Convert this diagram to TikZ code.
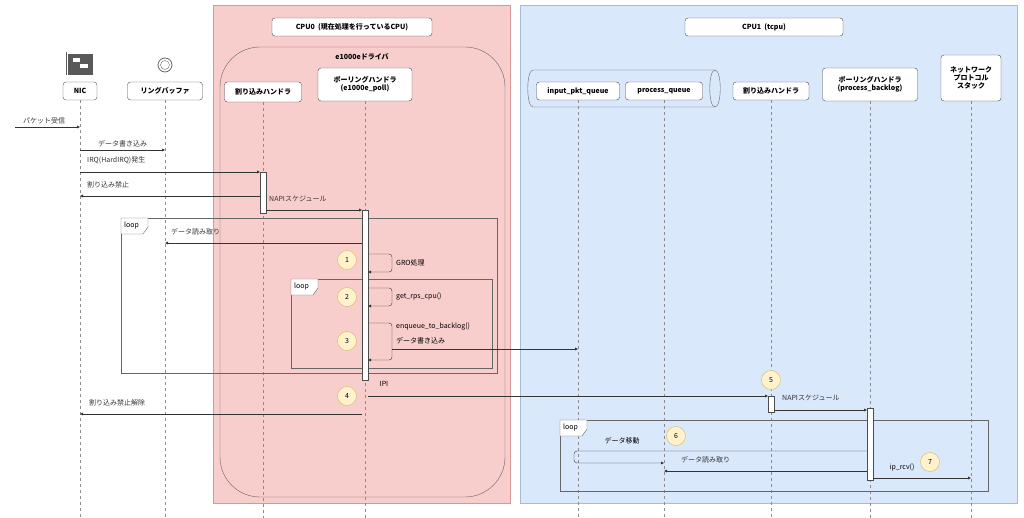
\documentclass[tikz,border=0pt]{standalone}
\usepackage{fontspec}
\setmainfont{Noto Sans CJK JP}
\usetikzlibrary{arrows.meta}
\definecolor{cpuzero}{HTML}{F8CECC}
\definecolor{cpuzeroline}{HTML}{B85450}
\definecolor{cpuone}{HTML}{DAE8FC}
\definecolor{cpuoneline}{HTML}{6C8EBF}
\definecolor{marker}{HTML}{FFF2CC}
\definecolor{markerline}{HTML}{D6B656}
\tikzset{
	actor/.style={draw=black!70, fill=white, rounded corners=3pt, font=\fontsize{7}{8}\selectfont\bfseries, align=center, inner sep=2pt},
	life/.style={dashed, black!45, thin},
	msg/.style={-{Latex[length=3pt,width=3pt]}, black!80, thin},
	lbl/.style={font=\fontsize{7}{8}\selectfont, inner sep=1pt},
	act/.style={draw=black!70, fill=white, thin},
	num/.style={circle, draw=markerline, fill=marker, minimum size=19pt, inner sep=0pt, font=\fontsize{7}{8}\selectfont},
	frame/.style={draw=black!60, thin}
}
\newcommand{\looptag}[2]{%
	\draw[frame, fill=white] (#1,#2) -- ++(27,0) -- ++(0,9) -- ++(-5,7) -- ++(-22,0) -- cycle;
	\node[lbl, anchor=west] at (#1+2,#2+8) {loop};}
\begin{document}
\begin{tikzpicture}[x=1pt,y=-1pt]
	\useasboundingbox (0,0) rectangle (1024,518);
	% cpu regions
	\draw[fill=cpuzero, draw=cpuzeroline!60] (213,5) rectangle (510,503);
	\draw[fill=cpuone, draw=cpuoneline!60] (520,5) rectangle (1017,503);
	\draw[fill=cpuzero, draw=black!60, rounded corners=40pt] (220,47) rectangle (505,497);
	\node[actor, minimum width=160pt, minimum height=18pt] (cpu0) at (352,27) {CPU0\ \ (現在処理を行っているCPU)};
	\node[actor, minimum width=158pt, minimum height=18pt] (cpu1) at (764,27) {CPU1\ \ (tcpu)};
	\node[lbl, font=\fontsize{7}{8}\selectfont\bfseries] (drv) at (362,57) {e1000eドライバ};
	% queue cylinder
	\draw[fill=cpuone, draw=black!60] (533,70) -- (715,70) .. controls (722,70) and (722,107) .. (715,107)
		-- (533,107) .. controls (526,107) and (526,70) .. (533,70) -- cycle;
	\draw[black!60] (715,70) .. controls (708,70) and (708,107) .. (715,107);

	% actors
	\node[actor, minimum width=34pt, minimum height=18pt] (nic) at (80,91) {NIC};
	\node[actor, minimum width=75pt, minimum height=18pt] (ring) at (165,91) {リングバッファ};
	\node[actor, minimum width=77pt, minimum height=20pt] (intr) at (263,92) {割り込みハンドラ};
	\node[actor, minimum width=94pt, minimum height=33pt] (poll) at (365,84.5) {ポーリングハンドラ\\(e1000e\_poll)};
	\node[actor, minimum width=83pt, minimum height=18pt] (inq) at (578,91) {input\_pkt\_queue};
	\node[actor, minimum width=77pt, minimum height=18pt] (procq) at (664,91) {process\_queue};
	\node[actor, minimum width=76pt, minimum height=18pt] (intrb) at (771,91) {割り込みハンドラ};
	\node[actor, minimum width=95pt, minimum height=33pt] (pollb) at (870,84.5) {ポーリングハンドラ\\(process\_backlog)};
	\node[actor, minimum width=60pt, minimum height=46pt] (stack) at (971,78) {ネットワーク\\プロトコル\\スタック};

	% icons
	\fill[black!65] (68,54) rectangle (93,75);
	\fill[white] (73,58) rectangle (80,62);
	\fill[white] (80,64) rectangle (88,68);
	\draw[black!65, thick] (66,52) -- (66,75);
	\draw[black!60, thick] (165,65) circle[radius=7];
	\draw[black!60] (165,65) circle[radius=4.5];

	% lifelines
	\foreach \n in {nic,ring,intr,poll,inq,procq,intrb,pollb,stack}
		\draw[life] (\n.south) -- (\n |- 0,518);

	% loop frames
	\draw[frame] (121,218) rectangle (497,373);
	\looptag{121}{218}
	\draw[frame] (291,279) rectangle (492,368);
	\looptag{291}{279}
	\draw[frame] (560,420) rectangle (988,491);
	\looptag{560}{420}

	% activations
	\draw[act] (260,172) rectangle (266,213);
	\draw[act] (362,210) rectangle (368,380);
	\draw[act] (768,396) rectangle (774,412);
	\draw[act] (867,408) rectangle (873,480);

	% messages
	\coordinate (src) at (15,127);
	\draw[msg] (src) -- (nic |- src) node[lbl, pos=0.45, above=2pt] {パケット受信};
	\draw[msg] (nic |- 0,150) -- (ring |- 0,150) node[lbl, midway, above=2pt] {データ書き込み};
	\draw[msg] (nic |- 0,172) -- (260,172) node[lbl, anchor=south west] at (86,165) {IRQ(HardIRQ)発生};
	\draw[msg] (260,196) -- (nic |- 0,196) node[lbl, anchor=south west] at (86,189) {割り込み禁止};
	\draw[msg] (266,210) -- (362,210) node[lbl, anchor=south west] at (268,203) {NAPIスケジュール};
	\draw[msg] (362,243) -- (ring |- 0,243) node[lbl, anchor=south west] at (170,236) {データ読み取り};

	\node[num] (n1) at (347,260) {1};
	\draw[msg, rounded corners=3pt] (368,254) -- (392,254) -- (392,272) -- (368,272);
	\node[lbl, anchor=west] at (395,263) {GRO処理};
	\node[num] (n2) at (347,297) {2};
	\draw[msg, rounded corners=3pt] (368,288) -- (392,288) -- (392,306) -- (368,306);
	\node[lbl, anchor=west] at (395,297) {get\_rps\_cpu()};
	\node[num] (n3) at (347,341) {3};
	\draw[msg, rounded corners=3pt] (368,323) -- (392,323) -- (392,360) -- (368,360);
	\node[lbl, anchor=west] at (395,327) {enqueue\_to\_backlog()};
	\node[lbl, anchor=west] at (395,341) {データ書き込み};
	\draw[msg] (392,349) -- (inq |- 0,349);

	\node[num] (n4) at (347,396) {4};
	\node[lbl] at (384,384) {IPI};
	\draw[msg] (368,396) -- (768,396);
	\draw[msg] (362,414) -- (nic |- 0,414) node[lbl, anchor=south west] at (88,407) {割り込み禁止解除};

	\node[num] (n5) at (771,380) {5};
	\draw[msg] (774,410) -- (867,410) node[lbl, anchor=south west] at (781,402) {NAPIスケジュール};

	\node[num] (n6) at (676,436) {6};
	\node[lbl] at (622,441) {データ移動};
	\draw[msg, rounded corners=3pt] (867,451) -- (574,451) -- (574,463) -- (procq |- 0,463);
	\draw[msg] (867,471) -- (procq |- 0,471) node[lbl, anchor=south west] at (680,464) {データ読み取り};
	\node[num] (n7) at (930,462) {7};
	\node[lbl] at (902,467) {ip\_rcv()};
	\draw[msg] (873,478) -- (stack |- 0,478);
\end{tikzpicture}
\end{document}
